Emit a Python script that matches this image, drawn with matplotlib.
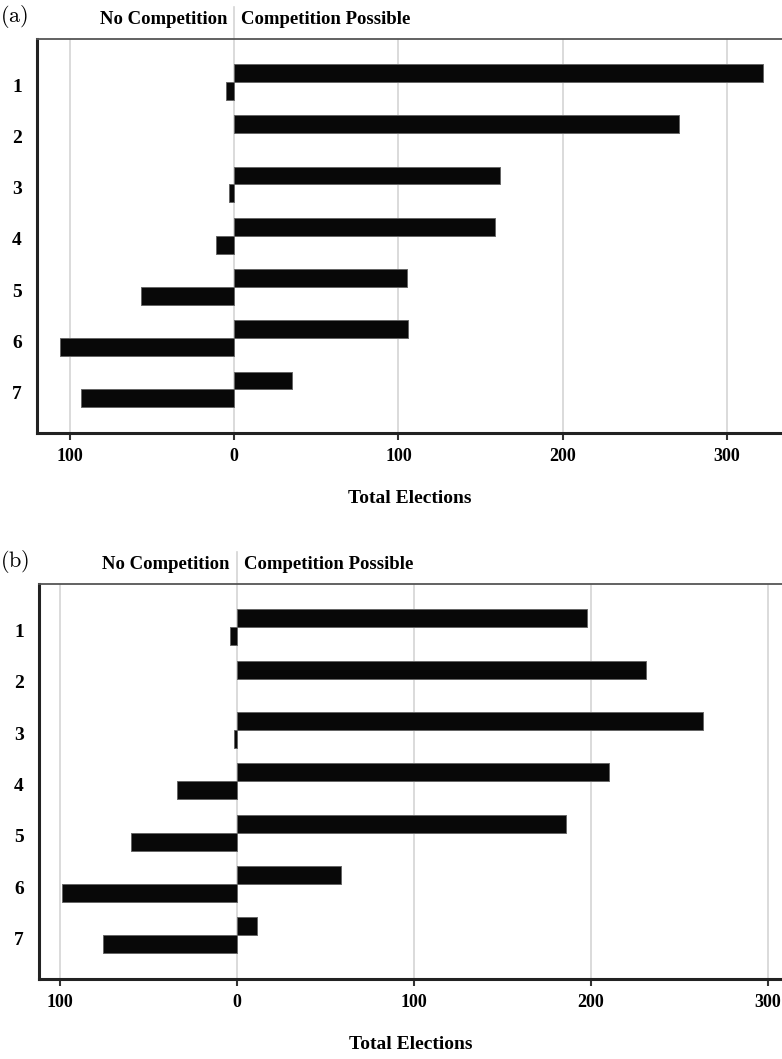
import numpy as np
import matplotlib
matplotlib.use("Agg")
from matplotlib import pyplot as plt

# number of candidates (rows)
rows = [1, 2, 3, 4, 5, 6, 7]

# panel (a)
a_possible = [322, 271, 162, 159, 105, 106, 35]
a_none = [5, 0, 3, 11, 57, 106, 93]

# panel (b)
b_possible = [198, 231, 263, 210, 186, 59, 11]
b_none = [4, 0, 2, 34, 60, 99, 76]

xticks = [-100, 0, 100, 200, 300]
xticklabels = ["100", "0", "100", "200", "300"]

plt.rcParams["mathtext.fontset"] = "cm"
serif = ["Liberation Serif", "DejaVu Serif"]

fig = plt.figure(figsize=(7.82, 10.59), dpi=100)


def edges(vals):
    return ["#666666" if v else "none" for v in vals]


def panel(pos, xlim, possible, none, tag):
    ax = fig.add_axes(pos)
    y = np.array(rows)
    h = 0.35
    off = 0.06
    # competition possible -> right (upper bar), no competition -> left (lower bar)
    ax.barh(y - off, possible, height=-h, align="edge", color="#080808",
            edgecolor=edges(possible), linewidth=0.7, zorder=3)
    ax.barh(y - off, [-v for v in none], height=h, align="edge", color="#080808",
            edgecolor=edges(none), linewidth=0.7, zorder=3)
    ax.set_xlim(*xlim)
    ax.set_ylim(7.79, 0.10)
    for t in xticks:
        ax.axvline(t, color="#d4d4d4", lw=1.2, zorder=1)
    # separator line reaching up into the header
    ax.plot([0, 0], [1.0, 1.08], transform=ax.get_xaxis_transform(),
            color="#d4d4d4", lw=1.2, clip_on=False)
    ax.set_xticks(xticks)
    ax.set_xticklabels(xticklabels, family=serif, fontweight="bold", fontsize=13)
    ax.set_yticks(rows)
    ax.set_yticklabels([str(r) for r in rows], family=serif, fontweight="bold", fontsize=14)
    ax.tick_params(axis="x", length=5, width=1.5, color="#333333", pad=6, direction="out")
    ax.tick_params(axis="y", length=0, pad=11)
    ax.spines["right"].set_visible(False)
    ax.spines["top"].set_color("#555555")
    ax.spines["top"].set_linewidth(1.3)
    for s in ("left", "bottom"):
        ax.spines[s].set_color("#222222")
        ax.spines[s].set_linewidth(2.2)
    ax.set_xlabel("Total Elections", family=serif, fontweight="bold", fontsize=14, labelpad=18)
    ax.text(-4, 1.05, "No Competition", transform=ax.get_xaxis_transform(),
            ha="right", va="center", family=serif, fontweight="bold", fontsize=13.5)
    ax.text(4, 1.05, "Competition Possible", transform=ax.get_xaxis_transform(),
            ha="left", va="center", family=serif, fontweight="bold", fontsize=13.5)
    fig.text(0.0, pos[1] + pos[3] + 0.021, r"$\mathrm{(" + tag + ")}$",
             ha="left", va="center", fontsize=16)
    return ax


panel([0.0473, 0.5911, 0.9527, 0.3721], (-120.1, 333.5), a_possible, a_none, "a")
panel([0.0499, 0.0755, 0.9501, 0.3730], (-111.9, 307.9), b_possible, b_none, "b")

fig.savefig("out.png", dpi=100)
